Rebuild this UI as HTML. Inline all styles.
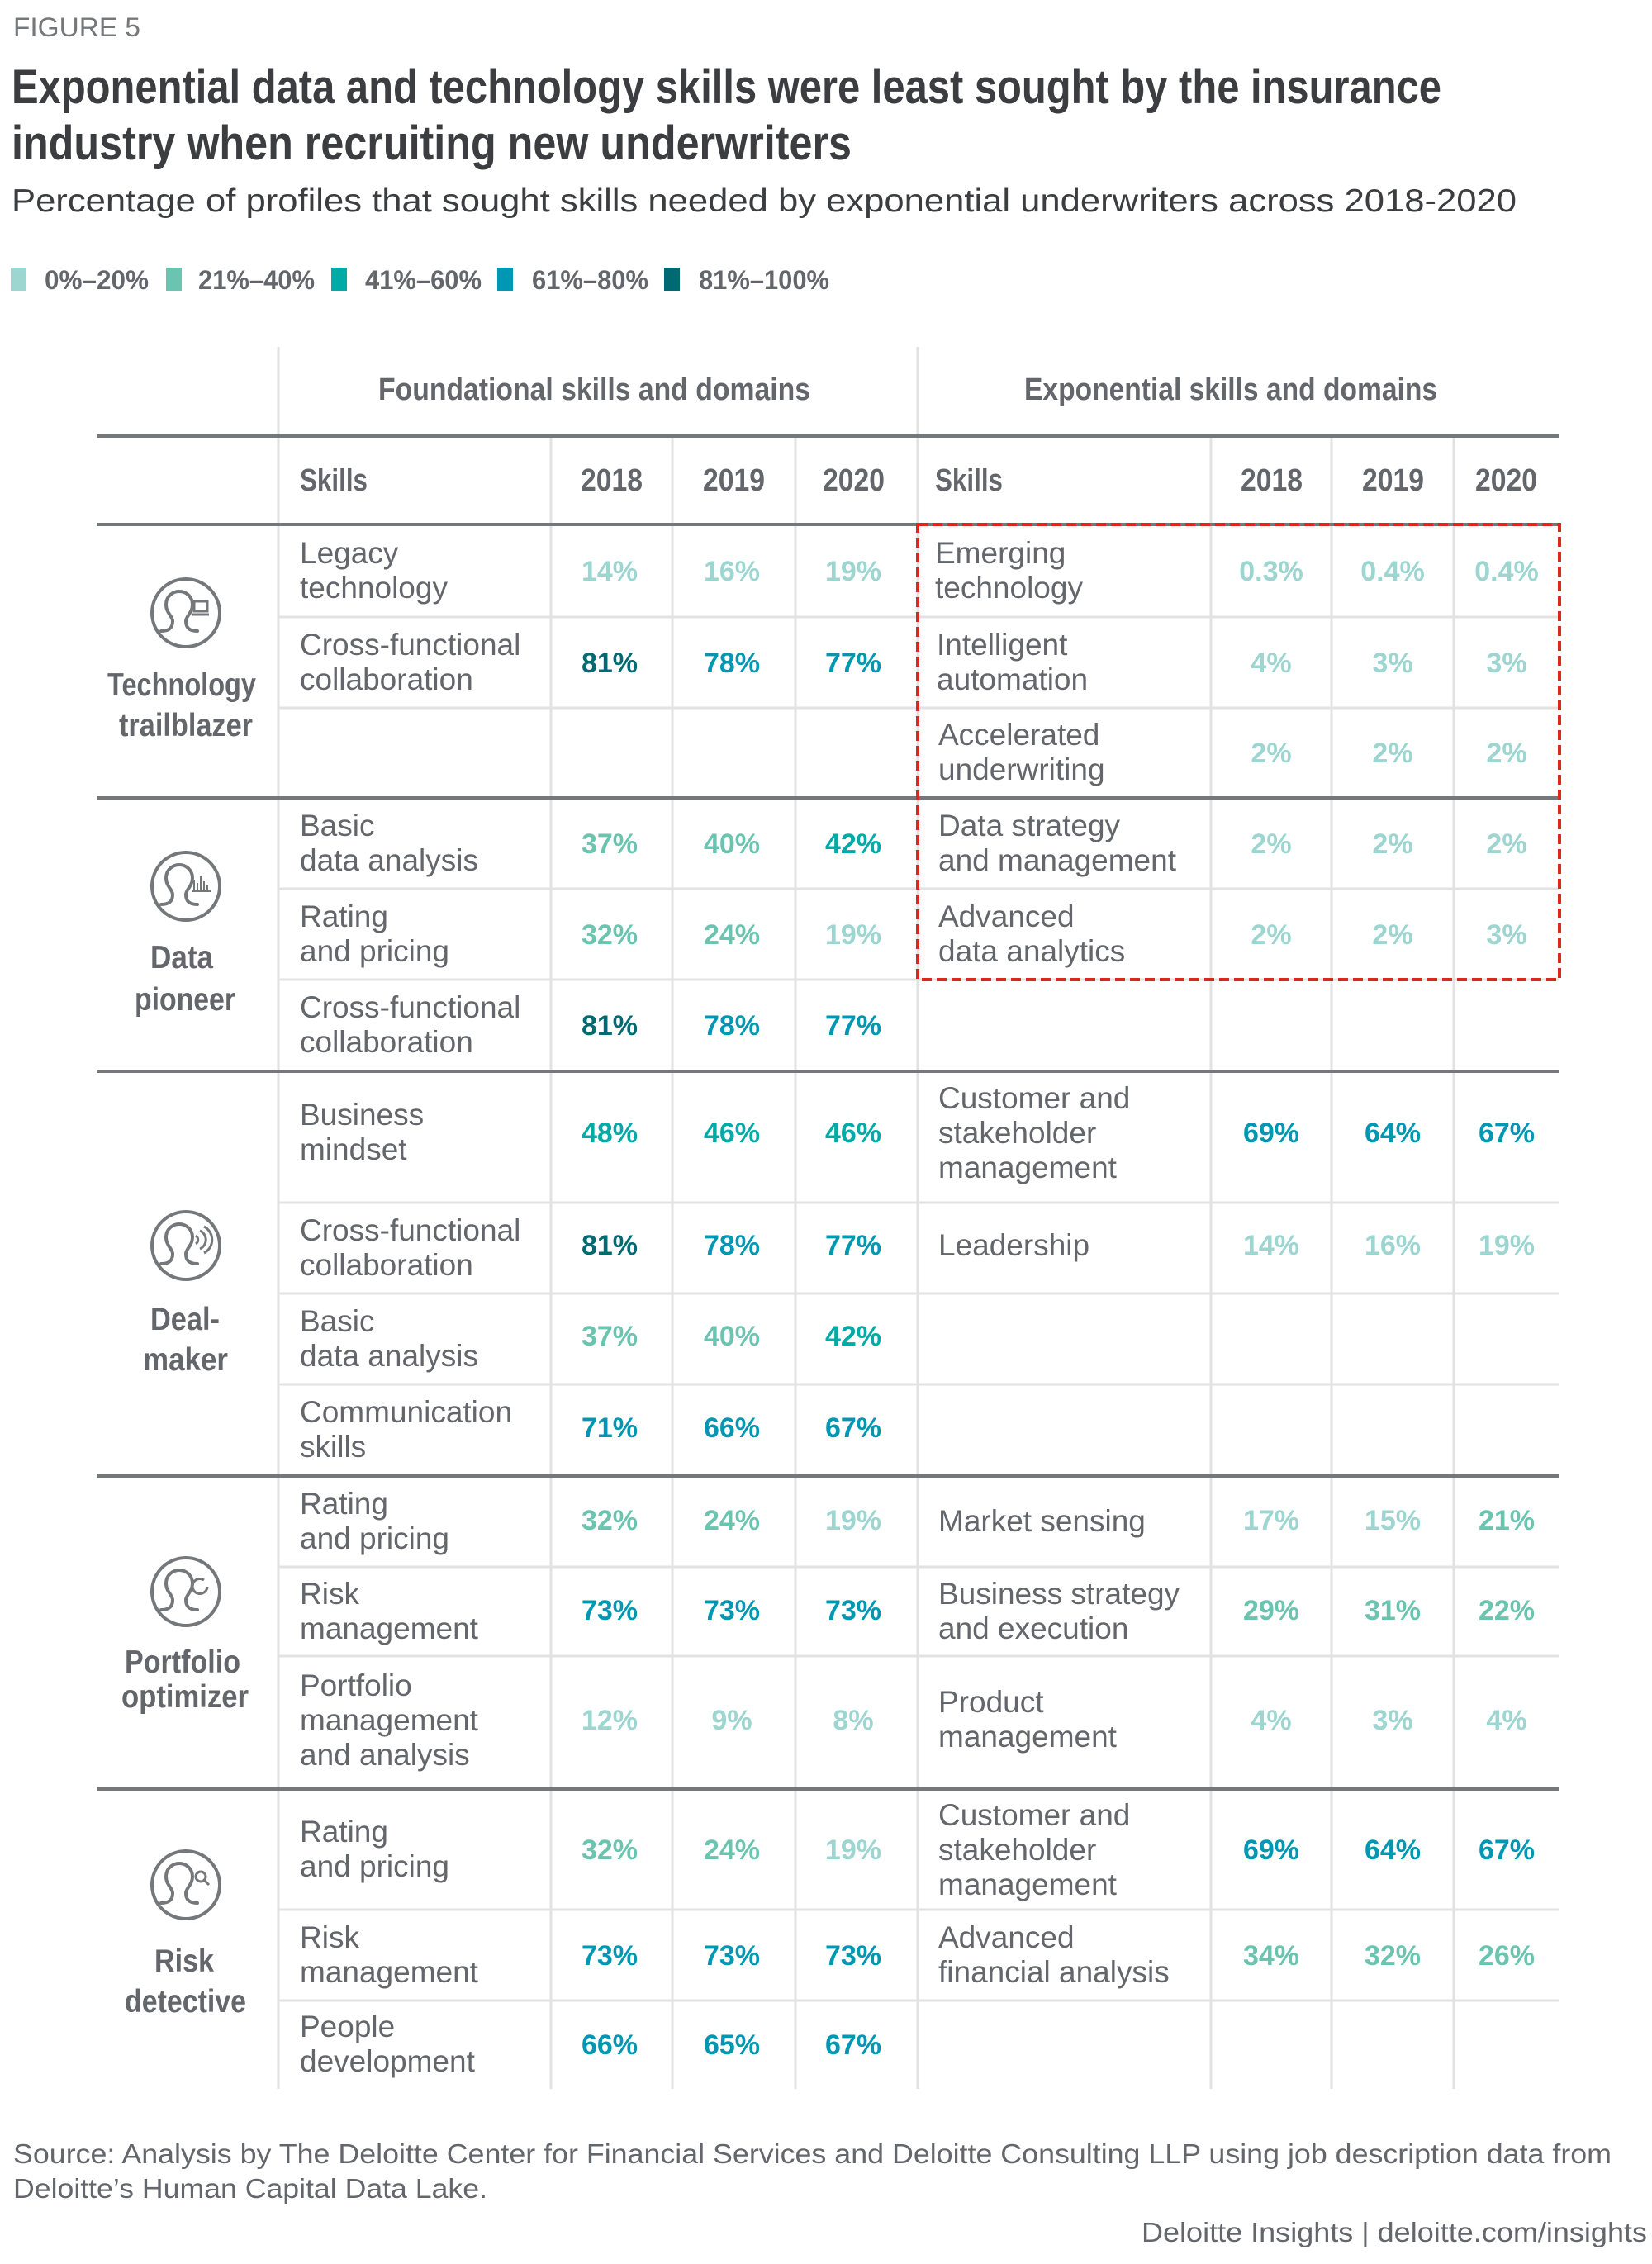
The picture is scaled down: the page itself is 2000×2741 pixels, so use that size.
<!DOCTYPE html>
<html><head><meta charset="utf-8"><style>
html,body{margin:0;padding:0;background:#fff;}
svg{display:block;}
.n{font-family:"Liberation Sans Narrow","Liberation Sans",sans-serif;font-weight:bold;font-size:34px;text-anchor:middle;}
.s{font-family:"Liberation Sans",sans-serif;font-size:37px;fill:#63666a;}
.h{font-family:"Liberation Sans Narrow","Liberation Sans",sans-serif;font-weight:bold;font-size:38px;fill:#63666a;}
.g{font-family:"Liberation Sans Narrow","Liberation Sans",sans-serif;font-weight:bold;font-size:39px;fill:#63666a;}
.a{fill:#9dd5d0}.b{fill:#6bc4b0}.c{fill:#00aaa6}.d{fill:#0097b2}.e{fill:#006a72}
</style></head><body>
<svg width="2000" height="2741" viewBox="0 0 2000 2741" xmlns="http://www.w3.org/2000/svg">
<defs>
<g id="p"><path d="M-24,20 C-14,20 -10,16 -10,8 C-10,2 -18,-2 -18,-12 C-18,-22 -10,-28 -2,-28 C6,-28 14,-22 14,-12 C14,-2 6,2 6,8 C6,16 10,20 20,20" fill="none" stroke="#75787b" stroke-width="4" stroke-linecap="round"/></g>
<g id="ci"><circle cx="0" cy="0" r="41" fill="none" stroke="#75787b" stroke-width="4"/></g>
</defs>
<text x="16" y="44" font-family="Liberation Sans Narrow, Liberation Sans, sans-serif" font-size="32" fill="#75787b" textLength="154" lengthAdjust="spacingAndGlyphs">FIGURE 5</text>
<text x="14" y="125" font-family="Liberation Sans Narrow, Liberation Sans, sans-serif" font-weight="bold" font-size="58" fill="#3c3d40" textLength="1731" lengthAdjust="spacingAndGlyphs">Exponential data and technology skills were least sought by the insurance</text>
<text x="14" y="193" font-family="Liberation Sans Narrow, Liberation Sans, sans-serif" font-weight="bold" font-size="58" fill="#3c3d40" textLength="1017" lengthAdjust="spacingAndGlyphs">industry when recruiting new underwriters</text>
<text x="14" y="256" font-family="Liberation Sans, sans-serif" font-size="39" fill="#3c3d40" textLength="1822" lengthAdjust="spacingAndGlyphs">Percentage of profiles that sought skills needed by exponential underwriters across 2018-2020</text>
<g font-family="Liberation Sans Narrow, Liberation Sans, sans-serif" font-weight="bold" font-size="32" fill="#63666a">
<rect x="13" y="324" width="19" height="28" class="a"/><text x="54" y="350" textLength="126" lengthAdjust="spacingAndGlyphs">0%–20%</text>
<rect x="201" y="324" width="19" height="28" class="b"/><text x="240" y="350" textLength="141" lengthAdjust="spacingAndGlyphs">21%–40%</text>
<rect x="401" y="324" width="19" height="28" class="c"/><text x="442" y="350" textLength="141" lengthAdjust="spacingAndGlyphs">41%–60%</text>
<rect x="602" y="324" width="19" height="28" class="d"/><text x="644" y="350" textLength="141" lengthAdjust="spacingAndGlyphs">61%–80%</text>
<rect x="804" y="324" width="19" height="28" class="e"/><text x="846" y="350" textLength="158" lengthAdjust="spacingAndGlyphs">81%–100%</text>
</g>
<g stroke="#e2e2e2" stroke-width="3">
<line x1="337" y1="420" x2="337" y2="2529"/><line x1="1111" y1="420" x2="1111" y2="2529"/>
<line x1="667" y1="528" x2="667" y2="2529"/><line x1="814" y1="528" x2="814" y2="2529"/><line x1="963" y1="528" x2="963" y2="2529"/>
<line x1="1466" y1="528" x2="1466" y2="2529"/><line x1="1612" y1="528" x2="1612" y2="2529"/><line x1="1760" y1="528" x2="1760" y2="2529"/>
<line x1="337" y1="747" x2="1888" y2="747"/><line x1="337" y1="857" x2="1888" y2="857"/>
<line x1="337" y1="1076" x2="1888" y2="1076"/><line x1="337" y1="1186" x2="1888" y2="1186"/>
<line x1="337" y1="1456" x2="1888" y2="1456"/><line x1="337" y1="1566" x2="1888" y2="1566"/><line x1="337" y1="1676" x2="1888" y2="1676"/>
<line x1="337" y1="1897" x2="1888" y2="1897"/><line x1="337" y1="2005" x2="1888" y2="2005"/>
<line x1="337" y1="2312" x2="1888" y2="2312"/><line x1="337" y1="2422" x2="1888" y2="2422"/>
</g>
<g stroke="#75787b" stroke-width="4">
<line x1="117" y1="528" x2="1888" y2="528"/><line x1="117" y1="635" x2="1888" y2="635"/>
<line x1="117" y1="966" x2="1888" y2="966"/><line x1="117" y1="1297" x2="1888" y2="1297"/>
<line x1="117" y1="1787" x2="1888" y2="1787"/><line x1="117" y1="2166" x2="1888" y2="2166"/>
</g>
<rect x="1111" y="635" width="777" height="551" fill="none" stroke="#da291c" stroke-width="4" stroke-dasharray="12 6"/>
<text class="h" x="458" y="484" textLength="523" lengthAdjust="spacingAndGlyphs">Foundational skills and domains</text>
<text class="h" x="1240" y="484" textLength="500" lengthAdjust="spacingAndGlyphs">Exponential skills and domains</text>
<text class="h" x="363" y="594" textLength="82" lengthAdjust="spacingAndGlyphs">Skills</text>
<text class="h" x="1132" y="594" textLength="82" lengthAdjust="spacingAndGlyphs">Skills</text>
<g class="h">
<text x="703" y="594" textLength="75" lengthAdjust="spacingAndGlyphs">2018</text><text x="851" y="594" textLength="75" lengthAdjust="spacingAndGlyphs">2019</text><text x="996" y="594" textLength="75" lengthAdjust="spacingAndGlyphs">2020</text>
<text x="1502" y="594" textLength="75" lengthAdjust="spacingAndGlyphs">2018</text><text x="1649" y="594" textLength="75" lengthAdjust="spacingAndGlyphs">2019</text><text x="1786" y="594" textLength="75" lengthAdjust="spacingAndGlyphs">2020</text>
</g>
<g transform="translate(225,742)"><use href="#ci"/><use href="#p" transform="translate(-6,2)"/><rect x="10" y="-14" width="16" height="12" fill="none" stroke="#75787b" stroke-width="3"/><line x1="8" y1="2" x2="28" y2="2" stroke="#75787b" stroke-width="3"/></g>
<text class="g" x="130" y="842" textLength="180" lengthAdjust="spacingAndGlyphs">Technology</text><text class="g" x="144" y="891" textLength="162" lengthAdjust="spacingAndGlyphs">trailblazer</text>
<g transform="translate(225,1073)"><use href="#ci"/><use href="#p" transform="translate(-6,2)"/><g stroke="#75787b" stroke-width="2"><line x1="10" y1="4" x2="10" y2="-8"/><line x1="14" y1="4" x2="14" y2="-4"/><line x1="18" y1="4" x2="18" y2="-12"/><line x1="22" y1="4" x2="22" y2="-6"/><line x1="26" y1="4" x2="26" y2="-2"/><line x1="8" y1="6" x2="30" y2="6"/></g></g>
<text class="g" x="182" y="1172" textLength="76" lengthAdjust="spacingAndGlyphs">Data</text><text class="g" x="163" y="1223" textLength="122" lengthAdjust="spacingAndGlyphs">pioneer</text>
<g transform="translate(225,1508)"><use href="#ci"/><use href="#p" transform="translate(-6,2)"/><path d="M12,-12 a6,6 0 0 1 0,10 M17,-18 a12,12 0 0 1 0,22 M22,-23 a18,18 0 0 1 0,32" fill="none" stroke="#75787b" stroke-width="3"/></g>
<text class="g" x="182" y="1610" textLength="84" lengthAdjust="spacingAndGlyphs">Deal-</text><text class="g" x="173" y="1659" textLength="103" lengthAdjust="spacingAndGlyphs">maker</text>
<g transform="translate(225,1927)"><use href="#ci"/><use href="#p" transform="translate(-6,2)"/><path d="M26,-6 a9,9 0 1 1 -4,-8" fill="none" stroke="#75787b" stroke-width="3"/></g>
<text class="g" x="151" y="2025" textLength="140" lengthAdjust="spacingAndGlyphs">Portfolio</text><text class="g" x="147" y="2067" textLength="154" lengthAdjust="spacingAndGlyphs">optimizer</text>
<g transform="translate(225,2282)"><use href="#ci"/><use href="#p" transform="translate(-6,2)"/><circle cx="18" cy="-10" r="6" fill="none" stroke="#75787b" stroke-width="3"/><line x1="22" y1="-6" x2="28" y2="0" stroke="#75787b" stroke-width="3"/></g>
<text class="g" x="187" y="2387" textLength="72" lengthAdjust="spacingAndGlyphs">Risk</text><text class="g" x="151" y="2436" textLength="147" lengthAdjust="spacingAndGlyphs">detective</text>
<g class="s">
<text x="363" y="682">Legacy</text><text x="363" y="724">technology</text>
<text x="363" y="793">Cross-functional</text><text x="363" y="835">collaboration</text>
<text x="363" y="1012">Basic</text><text x="363" y="1054">data analysis</text>
<text x="363" y="1122">Rating</text><text x="363" y="1164">and pricing</text>
<text x="363" y="1232">Cross-functional</text><text x="363" y="1274">collaboration</text>
<text x="363" y="1362">Business</text><text x="363" y="1404">mindset</text>
<text x="363" y="1502">Cross-functional</text><text x="363" y="1544">collaboration</text>
<text x="363" y="1612">Basic</text><text x="363" y="1654">data analysis</text>
<text x="363" y="1722">Communication</text><text x="363" y="1764">skills</text>
<text x="363" y="1833">Rating</text><text x="363" y="1875">and pricing</text>
<text x="363" y="1942">Risk</text><text x="363" y="1984">management</text>
<text x="363" y="2053">Portfolio</text><text x="363" y="2095">management</text><text x="363" y="2137">and analysis</text>
<text x="363" y="2230">Rating</text><text x="363" y="2272">and pricing</text>
<text x="363" y="2358">Risk</text><text x="363" y="2400">management</text>
<text x="363" y="2466">People</text><text x="363" y="2508">development</text>
<text x="1132" y="682">Emerging</text><text x="1132" y="724">technology</text>
<text x="1134" y="793">Intelligent</text><text x="1134" y="835">automation</text>
<text x="1136" y="902">Accelerated</text><text x="1136" y="944">underwriting</text>
<text x="1136" y="1012">Data strategy</text><text x="1136" y="1054">and management</text>
<text x="1136" y="1122">Advanced</text><text x="1136" y="1164">data analytics</text>
<text x="1136" y="1342">Customer and</text><text x="1136" y="1384">stakeholder</text><text x="1136" y="1426">management</text>
<text x="1136" y="1520">Leadership</text>
<text x="1136" y="1854">Market sensing</text>
<text x="1136" y="1942">Business strategy</text><text x="1136" y="1984">and execution</text>
<text x="1136" y="2073">Product</text><text x="1136" y="2115">management</text>
<text x="1136" y="2210">Customer and</text><text x="1136" y="2252">stakeholder</text><text x="1136" y="2294">management</text>
<text x="1136" y="2358">Advanced</text><text x="1136" y="2400">financial analysis</text>
</g>
<g class="n">
<text x="738" y="703" class="a">14%</text><text x="886" y="703" class="a">16%</text><text x="1033" y="703" class="a">19%</text>
<text x="738" y="814" class="e">81%</text><text x="886" y="814" class="d">78%</text><text x="1033" y="814" class="d">77%</text>
<text x="738" y="1033" class="b">37%</text><text x="886" y="1033" class="b">40%</text><text x="1033" y="1033" class="c">42%</text>
<text x="738" y="1143" class="b">32%</text><text x="886" y="1143" class="b">24%</text><text x="1033" y="1143" class="a">19%</text>
<text x="738" y="1253" class="e">81%</text><text x="886" y="1253" class="d">78%</text><text x="1033" y="1253" class="d">77%</text>
<text x="738" y="1383" class="c">48%</text><text x="886" y="1383" class="c">46%</text><text x="1033" y="1383" class="c">46%</text>
<text x="738" y="1519" class="e">81%</text><text x="886" y="1519" class="d">78%</text><text x="1033" y="1519" class="d">77%</text>
<text x="738" y="1629" class="b">37%</text><text x="886" y="1629" class="b">40%</text><text x="1033" y="1629" class="c">42%</text>
<text x="738" y="1740" class="d">71%</text><text x="886" y="1740" class="d">66%</text><text x="1033" y="1740" class="d">67%</text>
<text x="738" y="1852" class="b">32%</text><text x="886" y="1852" class="b">24%</text><text x="1033" y="1852" class="a">19%</text>
<text x="738" y="1961" class="d">73%</text><text x="886" y="1961" class="d">73%</text><text x="1033" y="1961" class="d">73%</text>
<text x="738" y="2094" class="a">12%</text><text x="886" y="2094" class="a">9%</text><text x="1033" y="2094" class="a">8%</text>
<text x="738" y="2251" class="b">32%</text><text x="886" y="2251" class="b">24%</text><text x="1033" y="2251" class="a">19%</text>
<text x="738" y="2379" class="d">73%</text><text x="886" y="2379" class="d">73%</text><text x="1033" y="2379" class="d">73%</text>
<text x="738" y="2487" class="d">66%</text><text x="886" y="2487" class="d">65%</text><text x="1033" y="2487" class="d">67%</text>
<text x="1539" y="703" class="a">0.3%</text><text x="1686" y="703" class="a">0.4%</text><text x="1824" y="703" class="a">0.4%</text>
<text x="1539" y="814" class="a">4%</text><text x="1686" y="814" class="a">3%</text><text x="1824" y="814" class="a">3%</text>
<text x="1539" y="923" class="a">2%</text><text x="1686" y="923" class="a">2%</text><text x="1824" y="923" class="a">2%</text>
<text x="1539" y="1033" class="a">2%</text><text x="1686" y="1033" class="a">2%</text><text x="1824" y="1033" class="a">2%</text>
<text x="1539" y="1143" class="a">2%</text><text x="1686" y="1143" class="a">2%</text><text x="1824" y="1143" class="a">3%</text>
<text x="1539" y="1383" class="d">69%</text><text x="1686" y="1383" class="d">64%</text><text x="1824" y="1383" class="d">67%</text>
<text x="1539" y="1519" class="a">14%</text><text x="1686" y="1519" class="a">16%</text><text x="1824" y="1519" class="a">19%</text>
<text x="1539" y="1852" class="a">17%</text><text x="1686" y="1852" class="a">15%</text><text x="1824" y="1852" class="b">21%</text>
<text x="1539" y="1961" class="b">29%</text><text x="1686" y="1961" class="b">31%</text><text x="1824" y="1961" class="b">22%</text>
<text x="1539" y="2094" class="a">4%</text><text x="1686" y="2094" class="a">3%</text><text x="1824" y="2094" class="a">4%</text>
<text x="1539" y="2251" class="d">69%</text><text x="1686" y="2251" class="d">64%</text><text x="1824" y="2251" class="d">67%</text>
<text x="1539" y="2379" class="b">34%</text><text x="1686" y="2379" class="b">32%</text><text x="1824" y="2379" class="b">26%</text>
</g>
<text x="16" y="2619" font-family="Liberation Sans, sans-serif" font-size="33" fill="#63666a" textLength="1935" lengthAdjust="spacingAndGlyphs">Source: Analysis by The Deloitte Center for Financial Services and Deloitte Consulting LLP using job description data from</text>
<text x="16" y="2661" font-family="Liberation Sans, sans-serif" font-size="33" fill="#63666a" textLength="574" lengthAdjust="spacingAndGlyphs">Deloitte’s Human Capital Data Lake.</text>
<text x="1382" y="2714" font-family="Liberation Sans, sans-serif" font-size="33" fill="#63666a" textLength="612" lengthAdjust="spacingAndGlyphs">Deloitte Insights | deloitte.com/insights</text>
</svg>
</body></html>
